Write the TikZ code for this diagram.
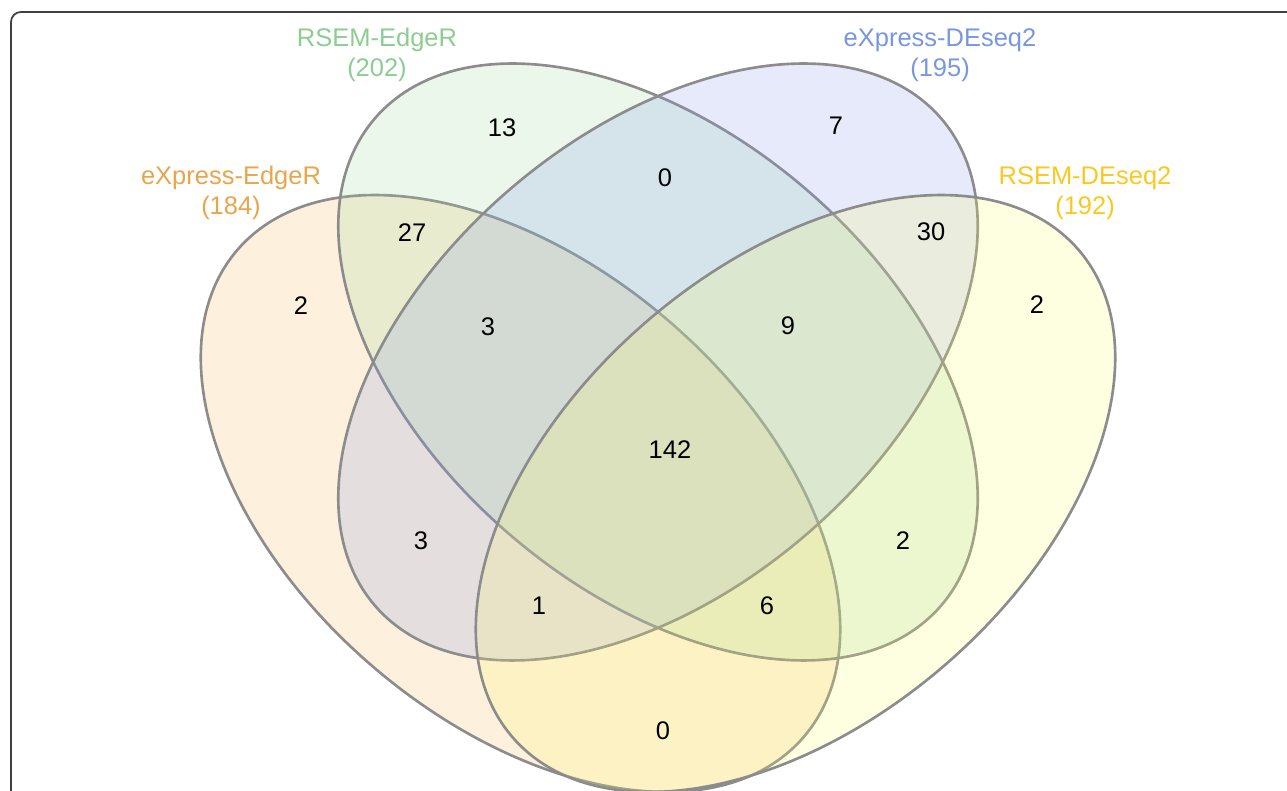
\documentclass[tikz,border=0pt]{standalone}
\usepackage{fontspec}
\setmainfont{Liberation Sans}
\usepackage{tikz}

\definecolor{fOrange}{RGB}{245,180,80}
\definecolor{fGreen}{RGB}{150,215,150}
\definecolor{fBlue}{RGB}{130,150,235}
\definecolor{fYellow}{RGB}{250,250,100}
\definecolor{tOrange}{RGB}{232,165,75}
\definecolor{tGreen}{RGB}{140,205,145}
\definecolor{tBlue}{RGB}{120,150,225}
\definecolor{tYellow}{RGB}{250,200,30}

\begin{document}
\begin{tikzpicture}
  [every node/.style={font=\fontsize{14.5}{17}\selectfont},
   set/.style={draw=black!45,line width=1.5pt,fill opacity=0.2},
   lbl/.style={align=center}]
  \useasboundingbox (0,0) rectangle (25.74,15.82);
  \draw[black!75,line width=1pt] (0.22,0) -- (0.22,15.38) arc (180:90:0.2) -- (25.74,15.58);

  % the four sets
  \draw[set,fill=fOrange] (10.41,5.95) ellipse [x radius=7.47,y radius=4.55,rotate=-40.7];
  \draw[set,fill=fGreen] (13.16,8.58) ellipse [x radius=7.47,y radius=4.55,rotate=-40.7];
  \draw[set,fill=fBlue] (13.16,8.58) ellipse [x radius=7.47,y radius=4.55,rotate=40.7];
  \draw[set,fill=fYellow] (15.91,5.95) ellipse [x radius=7.47,y radius=4.55,rotate=40.7];

  \node[lbl,text=tOrange] (lee) at (4.62,11.96) {eXpress-EdgeR\\(184)};
  \node[lbl,text=tGreen] (lre) at (7.54,14.72) {RSEM-EdgeR\\(202)};
  \node[lbl,text=tBlue] (led) at (18.80,14.72) {eXpress-DEseq2\\(195)};
  \node[lbl,text=tYellow] (lrd) at (21.70,11.96) {RSEM-DEseq2\\(192)};

  \node (n13) at (10.04,13.26) {13};
  \node (n7) at (16.72,13.30) {7};
  \node (n0a) at (13.30,12.26) {0};
  \node (n27) at (8.24,11.16) {27};
  \node (n30) at (18.62,11.18) {30};
  \node (n2a) at (6.02,9.70) {2};
  \node (n2b) at (20.74,9.72) {2};
  \node (n3a) at (9.76,9.28) {3};
  \node (n9) at (15.76,9.30) {9};
  \node (n142) at (13.40,6.82) {142};
  \node (n3b) at (8.42,5.00) {3};
  \node (n2c) at (18.06,5.00) {2};
  \node (n1) at (10.78,3.70) {1};
  \node (n6) at (15.34,3.70) {6};
  \node (n0b) at (13.26,1.20) {0};

\end{tikzpicture}
\end{document}
